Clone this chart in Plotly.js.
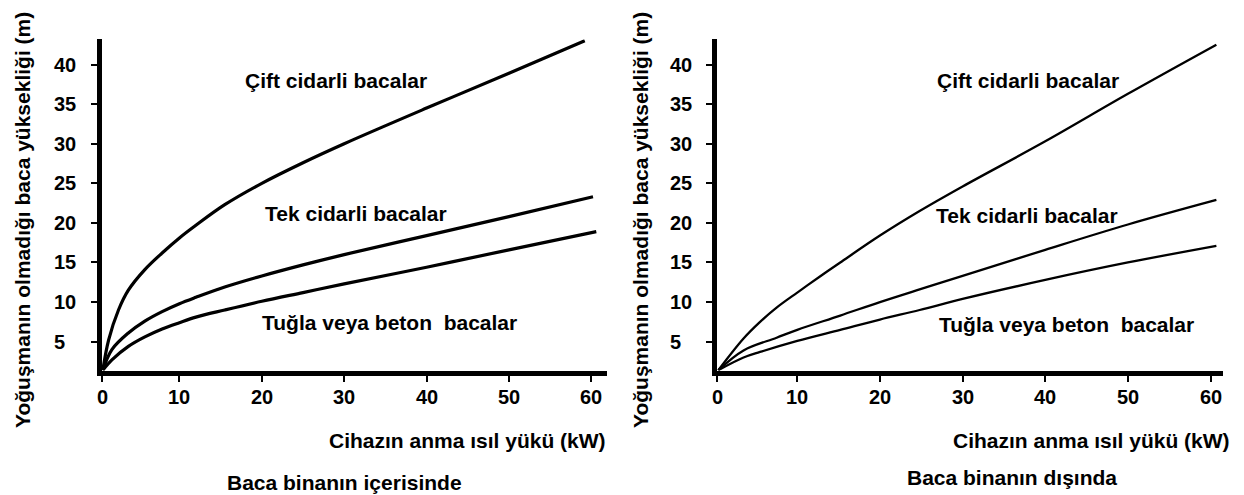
<!DOCTYPE html>
<html>
<head>
<meta charset="utf-8">
<script src="https://cdn.plot.ly/plotly-3.0.1.min.js"></script>
<style>html,body{margin:0;padding:0;background:#fff;}#chart{width:1244px;height:495px;}</style>
</head>
<body>
<div id="chart"></div>
<script>
// ---- Data ----
const seriesNames = ['Çift cidarli bacalar', 'Tek cidarli bacalar', 'Tuğla veya beton \u00a0bacalar'];
const panelTitles = ['Baca binanın içerisinde', 'Baca binanın dışında'];
const xAxisTitle = 'Cihazın anma ısıl yükü (kW)';
const yAxisTitle = 'Yoğuşmanın olmadığı baca yüksekliği (m)';

const xTickVals = [0, 10, 20, 30, 40, 50, 60];
const xTickText = ['0', '10', '20', '30', '40', '50', '60'];
const yTickVals = [5, 10, 15, 20, 25, 30, 35, 40];
const yTickText = ['5', '10', '15', '20', '25', '30', '35', '40'];

// Left panel: chimney inside the building
const xInCift = [0.7, 1.4, 2.6, 3.8, 5.8, 7.9, 10, 12, 15.5, 20, 25, 30, 40, 50, 59.2];
const yInCift = [1.4, 5.2, 9.0, 11.5, 14.1, 16.2, 18.1, 19.7, 22.3, 25.0, 27.6, 30.0, 34.5, 38.9, 43.0];
const xInTek  = [0.7, 1.8, 3.8, 5.8, 7.9, 10, 12, 15.5, 20, 25, 30, 40, 50, 60.2];
const yInTek  = [1.4, 4.0, 6.1, 7.6, 8.8, 9.8, 10.6, 11.9, 13.3, 14.7, 16.0, 18.4, 20.8, 23.3];
const xInTug  = [0.7, 1.8, 3.8, 5.8, 7.9, 10, 12, 15.5, 20, 25, 30, 40, 50, 60.6];
const yInTug  = [1.4, 2.7, 4.4, 5.6, 6.6, 7.4, 8.1, 9.0, 10.1, 11.2, 12.3, 14.4, 16.6, 18.9];

// Right panel: chimney outside the building
const xOutCift = [0.45, 3.5, 5.5, 7.5, 10, 12.7, 15.2, 20, 24.8, 30, 40, 50, 60.7];
const yOutCift = [1.4, 5.4, 7.5, 9.3, 11.2, 13.2, 15.0, 18.4, 21.5, 24.6, 30.3, 36.3, 42.5];
const xOutTek  = [0.45, 3.5, 7.5, 10, 15.2, 20, 24.8, 30, 40, 50, 60.7];
const yOutTek  = [1.4, 3.9, 5.5, 6.5, 8.3, 10.0, 11.6, 13.3, 16.6, 19.8, 22.9];
const xOutTug  = [0.45, 3.5, 5.5, 10, 15.2, 20, 24.8, 30, 40, 50, 60.7];
const yOutTug  = [1.4, 3.0, 3.7, 5.1, 6.5, 7.8, 9.0, 10.4, 12.8, 15.0, 17.1];

// ---- Layout helpers ----
const W = 1244, H = 495;
const px = v => v / W;
const py = v => 1 - v / H;
const FONT = 'Liberation Sans, Arial, Helvetica, sans-serif';
const BOLD = (size) => ({family: FONT, size: size, color: '#000', weight: 'bold'});

const xRangeL = [0.6, 61.9], xRangeR = [0.29, 61.5];
const yRange = [1.36, 43.2];

function line(x, y, xa, ya, w) {
  return {x: x, y: y, xaxis: xa, yaxis: ya, type: 'scatter', mode: 'lines',
          line: {color: '#000', width: w, shape: 'spline', smoothing: 1}, hoverinfo: 'skip'};
}

const data = [
  line(xInCift, yInCift, 'x', 'y', 3.2),
  line(xInTek, yInTek, 'x', 'y', 3.2),
  line(xInTug, yInTug, 'x', 'y', 3.2),
  line(xOutCift, yOutCift, 'x2', 'y2', 2.3),
  line(xOutTek, yOutTek, 'x2', 'y2', 2.3),
  line(xOutTug, yOutTug, 'x2', 'y2', 2.3)
];

function tickVals(range) { return xTickVals.map(v => Math.max(v, range[0] + 0.01)); }

// Axes: line + tick marks (labels are placed through the axes' scales below)
function xAxis(domain, range, anchor) {
  return {
    domain: domain, range: range, anchor: anchor,
    showgrid: false, zeroline: false, showline: true, linewidth: 5, linecolor: '#000',
    ticks: 'outside', ticklen: 6, tickwidth: 2, tickcolor: '#000',
    tickmode: 'array', tickvals: tickVals(range), ticktext: xTickText,
    showticklabels: false, fixedrange: true
  };
}
function yAxis(domain, range, anchor) {
  return {
    domain: domain, range: range, anchor: anchor,
    showgrid: false, zeroline: false, showline: true, linewidth: 5, linecolor: '#000',
    ticks: 'outside', ticklen: 6, tickwidth: 2, tickcolor: '#000',
    tickmode: 'array', tickvals: yTickVals, ticktext: yTickText,
    showticklabels: false, fixedrange: true
  };
}

function ann(text, x, y, size, angle) {
  return {text: text, x: px(x), y: py(y), xref: 'paper', yref: 'paper',
          xanchor: 'center', yanchor: 'middle', showarrow: false, textangle: angle || 0,
          font: BOLD(size)};
}
// x tick labels: positioned on the x scale, fixed pixel row
function xTickLabels(xref, range, rowPx) {
  return tickVals(range).map((v, i) => ({
    text: xTickText[i], x: v, xref: xref, y: py(rowPx), yref: 'paper',
    xanchor: 'center', yanchor: 'middle', showarrow: false, font: BOLD(20)
  }));
}
// y tick labels: positioned on the y scale, left-aligned at a fixed pixel column
function yTickLabels(yref, colPx) {
  return yTickVals.map((v, i) => ({
    text: yTickText[i], y: v, yref: yref, x: px(colPx), xref: 'paper',
    xanchor: 'left', yanchor: 'middle', showarrow: false, font: BOLD(20)
  }));
}

const yDomain = [py(370.5), py(39.2)];

const layout = {
  width: W, height: H,
  margin: {l: 0, r: 0, t: 0, b: 0},
  paper_bgcolor: '#fff', plot_bgcolor: '#fff',
  showlegend: false,
  font: {family: FONT, color: '#000'},
  xaxis: xAxis([px(102), px(607)], xRangeL, 'y'),
  yaxis: yAxis(yDomain, yRange, 'x'),
  xaxis2: xAxis([px(717), px(1223)], xRangeR, 'y2'),
  yaxis2: yAxis(yDomain, yRange, 'x2'),
  annotations: [
    ann(seriesNames[0], 336, 81, 21),
    ann(seriesNames[1], 356, 213, 21),
    ann(seriesNames[2], 390, 322, 21),
    ann(seriesNames[0], 1028, 80, 21),
    ann(seriesNames[1], 1027, 215, 21),
    ann(seriesNames[2], 1066, 324, 21),
    ann(xAxisTitle, 467, 440, 21),
    ann(xAxisTitle, 1091, 440, 21),
    ann(panelTitles[0], 344, 482, 21),
    ann(panelTitles[1], 1012, 477, 21),
    ann(yAxisTitle, 22, 220, 21, -90),
    ann(yAxisTitle, 640, 220, 21, -90)
  ].concat(
    xTickLabels('x', xRangeL, 397),
    xTickLabels('x2', xRangeR, 397),
    yTickLabels('y', 52),
    yTickLabels('y2', 668)
  )
};

Plotly.newPlot('chart', data, layout, {staticPlot: true, displayModeBar: false});
</script>
</body>
</html>
